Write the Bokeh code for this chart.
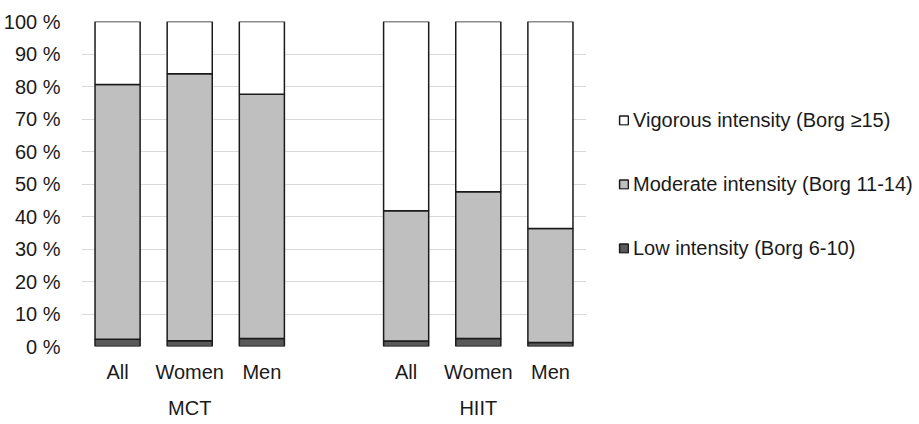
from bokeh.plotting import figure
from bokeh.models import (Range1d, FixedTicker, LinearAxis, Legend, LegendItem)
from bokeh.embed import file_html
from bokeh.resources import INLINE

groups = ["MCT", "HIIT"]
subgroups = ["All", "Women", "Men"]
low = [2.2, 1.8, 2.5, 1.7, 2.5, 1.2]
moderate = [78.4, 82.1, 75.1, 40.1, 45.1, 35.1]
vigorous = [round(100 - a - b, 1) for a, b in zip(low, moderate)]
y_ticks = list(range(0, 101, 10))
legend_labels = ["Vigorous intensity (Borg \u226515)",
                 "Moderate intensity (Borg 11-14)",
                 "Low intensity (Borg 6-10)"]
colors = ["#595959", "#bfbfbf", "#ffffff"]

# slot positions: 3 bars per group, one empty slot between groups
xs = []
xlabels = {}
gpos = {}
for gi, g in enumerate(groups):
    for si, s in enumerate(subgroups):
        x = gi * 4 + si + 0.5
        xs.append(x)
        xlabels[x] = s
    gpos[gi * 4 + 1.5] = g

FONT = "Liberation Sans"
TXT = "#1a1a1a"
FS = "20px"

p = figure(frame_width=505, frame_height=325, output_backend="svg", toolbar_location=None,
           x_range=Range1d(0, 7), y_range=Range1d(0, 100),
           min_border_left=0, min_border_right=0, min_border_top=21,
           min_border_bottom=0, x_axis_location=None)
p.outline_line_color = None
p.background_fill_color = "white"

data = dict(x=xs, low=low, moderate=moderate, vigorous=vigorous)
rs = p.vbar_stack(["low", "moderate", "vigorous"], x="x", width=0.625, source=data,
                  fill_color=colors, line_color="#1a1a1a", line_width=1.5)

# y axis
p.yaxis.ticker = FixedTicker(ticks=y_ticks)
p.yaxis.major_label_overrides = {t: f"{t} %" for t in y_ticks}
p.yaxis.axis_line_color = None
p.yaxis.major_tick_line_color = None
p.yaxis.minor_tick_line_color = None
p.yaxis.major_label_standoff = 15
p.yaxis.major_label_text_font = FONT
p.yaxis.major_label_text_font_size = FS
p.yaxis.major_label_text_color = TXT
p.ygrid.ticker = FixedTicker(ticks=y_ticks)
p.ygrid.grid_line_color = "#d9d9d9"
p.ygrid.grid_line_width = 1
p.xgrid.grid_line_color = None

# x axis (subgroups)
xa = LinearAxis(ticker=FixedTicker(ticks=xs), major_label_overrides=xlabels)
xa.axis_line_color = None
xa.major_tick_line_color = None
xa.minor_tick_line_color = None
xa.major_label_standoff = 8
xa.major_label_text_font = FONT
xa.major_label_text_font_size = FS
xa.major_label_text_color = TXT
p.add_layout(xa, "below")

# group axis
ga = LinearAxis(ticker=FixedTicker(ticks=list(gpos.keys())), major_label_overrides=gpos)
ga.axis_line_color = None
ga.major_tick_line_color = None
ga.minor_tick_line_color = None
ga.major_label_standoff = 5
ga.major_label_text_font = FONT
ga.major_label_text_font_size = FS
ga.major_label_text_color = TXT
p.add_layout(ga, "below")

items = [LegendItem(label=legend_labels[0], renderers=[rs[2]]),
         LegendItem(label=legend_labels[1], renderers=[rs[1]]),
         LegendItem(label=legend_labels[2], renderers=[rs[0]])]
legend = Legend(items=items, location="center_left", orientation="vertical",
                glyph_width=11, glyph_height=11, label_standoff=4,
                spacing=41, margin=32, padding=0, border_line_color=None,
                background_fill_alpha=0,
                label_text_font=FONT, label_text_font_size=FS,
                label_text_color=TXT)
p.add_layout(legend, "right")

open("out.html", "w").write(file_html(p, INLINE))
